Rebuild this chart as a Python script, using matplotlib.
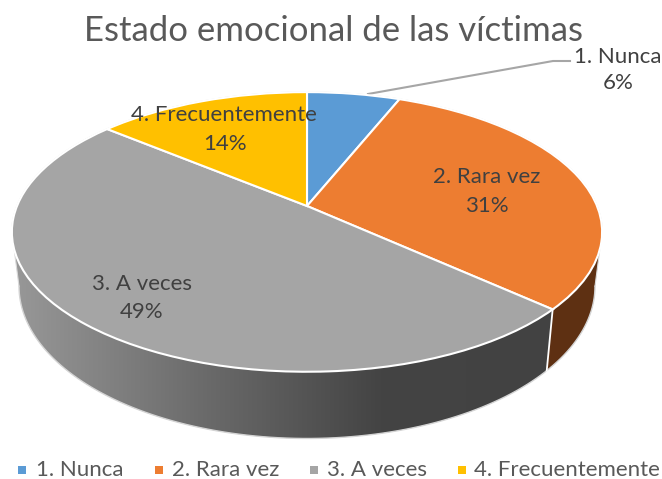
import numpy as np
import matplotlib
matplotlib.use("Agg")
import matplotlib.pyplot as plt
from matplotlib.colors import LinearSegmentedColormap
from matplotlib.patches import Polygon
from matplotlib.transforms import Transform

categories = ["1. Nunca", "2. Rara vez", "3. A veces", "4. Frecuentemente"]
values = [6.1, 30.6, 49.3, 14.0]
colors = ["#5B9BD5", "#ED7D31", "#A5A5A5", "#FFC000"]
title = "Estado emocional de las víctimas"

plt.rcParams["font.family"] = ["Lato", "DejaVu Sans"]

# perspective of the disc, in picture pixels
PERSP = 0.1855
TOP = dict(cx=307, cy=206, a=290, b=135)
BOTTOM = dict(cx=307, cy=258, a=283, b=147)


class Disc(Transform):
    """Unit circle to a tilted disc seen in perspective."""
    input_dims = 2
    output_dims = 2

    def __init__(self, cx, cy, a, b):
        super().__init__()
        self.cx, self.cy, self.a, self.b = cx, cy, a, b

    def transform_non_affine(self, xy):
        xy = np.asarray(xy)
        w = 1 + PERSP * xy[:, 1]
        return np.column_stack([self.cx + self.a * xy[:, 0] / w,
                                self.cy - self.b * xy[:, 1] / w])


def arc(disc, start, end):
    # angles are clockwise from 12 o'clock, in degrees
    t = np.radians(np.linspace(start, end, 120))
    return disc.transform_non_affine(np.column_stack([np.sin(t), np.cos(t)]))


def side(start, end):
    return np.vstack([arc(top_disc, start, end), arc(bottom_disc, end, start)])


top_disc = Disc(**TOP)
bottom_disc = Disc(**BOTTOM)

fig = plt.figure(figsize=(6.62, 4.79), dpi=100)
ax = fig.add_axes([0, 0, 1, 1])

wedges, _ = ax.pie(values, colors=colors, startangle=90, counterclock=False,
                   wedgeprops=dict(edgecolor="white", linewidth=1.5, zorder=4))
for w in wedges:
    w.set_transform(top_disc + ax.transData)

# walls of the disc, only the front is visible
tangent = np.degrees(np.arcsin(np.sqrt(1 - PERSP ** 2)))
bounds = np.cumsum(values) * 3.6
right_end, left_end = 180 - tangent, 180 + tangent

ax.add_patch(Polygon(side(right_end, bounds[1]), closed=True, fc="#5E3012",
                     ec="none", zorder=2))
grad = LinearSegmentedColormap.from_list(
    "wall", [(0, "#989898"), (0.35, "#6B6B6B"), (0.68, "#444444"), (1, "#424242")])
img = ax.imshow(np.linspace(0, 1, 256)[None, :], cmap=grad, extent=(13, 553, 439, 230),
                aspect="auto", zorder=2)
clip = Polygon(side(bounds[1], left_end), closed=True, transform=ax.transData,
               fc="none", ec="none")
ax.add_patch(clip)
img.set_clip_path(clip)

edge = arc(bottom_disc, right_end, left_end)
ax.plot(edge[:, 0], edge[:, 1], color="#D4D4D4", lw=1, zorder=3)
ax.plot(*arc(top_disc, left_end, 360 + right_end).T, color="#D4D4D4", lw=1, zorder=3)
for d in (right_end, left_end):
    ends = np.vstack([arc(top_disc, d, d)[0], arc(bottom_disc, d, d)[0]])
    ax.plot(ends[:, 0], ends[:, 1], color="#D9D9D9", lw=0.8, zorder=3)
ends = np.vstack([arc(top_disc, bounds[1], bounds[1])[0], arc(bottom_disc, bounds[1], bounds[1])[0]])
ax.plot(ends[:, 0], ends[:, 1], color="white", lw=1.3, zorder=3)

ax.set_aspect("auto")
ax.set_xlim(0, 662)
ax.set_ylim(479, 0)
ax.axis("off")

ax.text(333, 31, title, color="#595959", fontsize=25, ha="center", va="center", zorder=6)

# data labels
name_pos = [(618, 57), (487, 177), (142, 284), (224, 115)]
pct_pos = [(618, 83), (487, 206), (142, 312), (225, 144)]
for name, val, (x, y), (px, py) in zip(categories, values, name_pos, pct_pos):
    ax.text(x, y, name, color="#404040", fontsize=16, ha="center", va="center", zorder=6)
    ax.text(px, py, f"{round(val)}%", color="#404040", fontsize=16,
            ha="center", va="center", zorder=6)
ax.plot([368, 553, 570], [94, 61, 61], color="#A6A6A6", lw=1.5, zorder=3)

# legend
marker_x = [22, 159, 314, 462]
text_x = [36, 172, 327, 474]
for name, col, mx, tx in zip(categories, colors, marker_x, text_x):
    ax.scatter([mx], [470], marker="s", s=28, color=col, linewidths=0, zorder=6)
    ax.text(tx, 470, name, color="#595959", fontsize=16, ha="left", va="center", zorder=6)

fig.savefig("out.png", dpi=100)
